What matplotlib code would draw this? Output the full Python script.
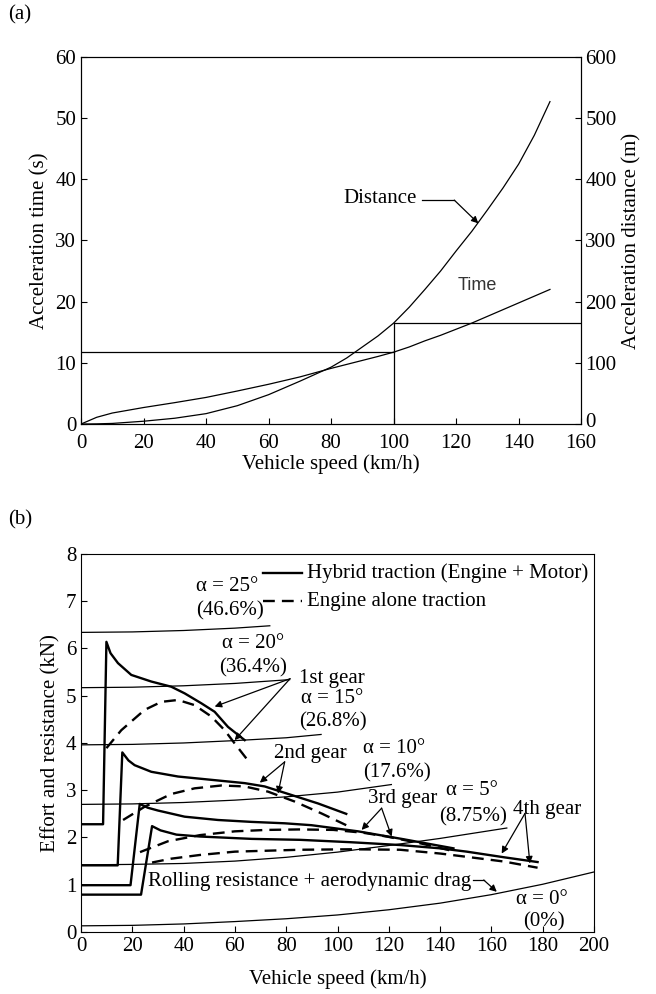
import matplotlib
matplotlib.use("Agg")
import matplotlib.pyplot as plt
from matplotlib.transforms import ScaledTranslation

plt.rcParams['font.family'] = ['Liberation Serif', 'DejaVu Serif']
FS = 15

# ---- (a) acceleration time / distance ----
speed_a = [0, 5, 10, 20, 30, 40, 50, 60, 70, 80, 85, 90, 95, 100, 105, 110, 115,
           120, 125, 130, 135, 140, 145, 150]
accel_time = [0, 1.1, 1.8, 2.7, 3.5, 4.35, 5.4, 6.5, 7.7, 9.1, 9.75, 10.4, 11.05, 11.75,
              12.6, 13.6, 14.5, 15.5, 16.5, 17.6, 18.7, 19.8, 20.9, 22.0]
accel_dist = [0, 0.3, 1, 4.6, 9.5, 17, 30, 48, 70, 93, 108, 126, 144, 165, 191, 220, 250,
              283, 315, 350, 386, 425, 472, 527]

# ---- (b) traction effort and resistance ----
g1_hyb_x = [0, 8.6, 9.9, 11.5, 14.4, 19.6, 27.4, 35.2, 40.4, 46.9, 52.1, 57.3, 63.8]
g1_hyb_y = [2.28, 2.28, 6.14, 5.90, 5.69, 5.44, 5.30, 5.19, 5.05, 4.84, 4.66, 4.34, 4.06]
g1_eng_x = [9.9, 15.7, 24.8, 31.3, 37.8, 44.3, 50.8, 56.0, 59.9, 64.5]
g1_eng_y = [3.89, 4.27, 4.70, 4.87, 4.91, 4.80, 4.56, 4.27, 3.99, 3.67]

g2_hyb_x = [0, 14.3, 16.1, 18.5, 20.9, 27.4, 37.8, 50.8, 63.8, 71.6, 82.0, 92.4, 103.4]
g2_hyb_y = [1.41, 1.41, 3.80, 3.63, 3.53, 3.39, 3.29, 3.22, 3.15, 3.08, 2.90, 2.72, 2.50]
g2_eng_x = [16.4, 24.8, 35.2, 44.3, 54.7, 63.8, 72.9, 83.3, 93.7, 103.4]
g2_eng_y = [2.37, 2.65, 2.92, 3.04, 3.10, 3.08, 2.97, 2.76, 2.51, 2.26]

g3_hyb_x = [0, 19.3, 22.9, 26.0, 30.0, 40.4, 53.4, 66.4, 79.4, 89.8, 108.0, 125, 145.2]
g3_hyb_y = [0.99, 0.99, 2.71, 2.63, 2.57, 2.44, 2.37, 2.33, 2.30, 2.26, 2.13, 1.97, 1.77]
g3_eng_x = [23.0, 33.9, 46.4, 60, 72.4, 85, 98.4, 110, 119.2, 132, 146]
g3_eng_y = [1.69, 1.92, 2.05, 2.13, 2.16, 2.17, 2.16, 2.10, 2.02, 1.88, 1.70]

g4_hyb_x = [0, 23.4, 27.7, 31, 37.2, 46.4, 66.6, 85.4, 105, 124.4, 140, 150.4, 165, 178]
g4_hyb_y = [0.79, 0.79, 2.24, 2.15, 2.06, 2.02, 1.97, 1.95, 1.90, 1.84, 1.77, 1.70, 1.58, 1.48]
g4_eng_x = [27.7, 35, 46.4, 60, 85.4, 105, 124.4, 140, 150.4, 165, 178]
g4_eng_y = [1.47, 1.55, 1.63, 1.70, 1.74, 1.75, 1.74, 1.66, 1.59, 1.49, 1.36]

# grade resistance curves
a0_x = [0, 20, 40, 60, 80, 100, 120, 140, 160, 180, 200]
a0_y = [0.13, 0.14, 0.17, 0.22, 0.28, 0.36, 0.47, 0.61, 0.79, 1.01, 1.27]
a5_x = [0, 20, 40, 60, 80, 100, 120, 140, 166]
a5_y = [1.42, 1.43, 1.45, 1.50, 1.58, 1.69, 1.83, 1.98, 2.20]
a10_x = [0, 20, 40, 60, 80, 100, 121]
a10_y = [2.70, 2.71, 2.74, 2.79, 2.86, 2.96, 3.12]
a15_x = [0, 20, 40, 60, 80, 93.6]
a15_y = [3.96, 3.97, 4.00, 4.05, 4.11, 4.18]
a20_x = [0, 20, 40, 60, 81.3]
a20_y = [5.17, 5.18, 5.21, 5.26, 5.34]
a25_x = [0, 20, 40, 60, 73.6]
a25_y = [6.34, 6.35, 6.38, 6.43, 6.48]

fig = plt.figure(figsize=(6.56, 9.94), dpi=100)

# ===================== (a) =====================
ax = fig.add_axes([0.1235, 0.5734, 0.7625, 0.3693])
ax2 = ax.twinx()
ax.plot(speed_a, accel_time, color='k', lw=0.9)
ax2.plot(speed_a, accel_dist, color='k', lw=0.9)
ax.plot([0, 100], [11.75, 11.75], color='k', lw=0.9)
ax.plot([100, 100], [0, 16.5], color='k', lw=0.9)
ax.plot([100, 160], [16.5, 16.5], color='k', lw=0.9)

ax.set_xlim(0, 160)
ax.set_ylim(0, 60)
ax2.set_ylim(0, 600)
ax.set_xticks(range(0, 161, 20))
ax.set_yticks(range(0, 61, 10))
ax2.set_yticks(range(0, 601, 100))
ax.tick_params(direction='in', labelsize=FS, length=4, top=False)
ax.tick_params(axis='x', pad=7)
ax2.tick_params(direction='in', labelsize=FS, length=4, pad=3)
ax.set_xlabel('Vehicle speed (km/h)', fontsize=FS, labelpad=1)
ax.set_ylabel('Acceleration time (s)', fontsize=FS)
ax2.set_ylabel('Acceleration distance (m)', fontsize=FS)

# lift the right-hand "0" a little so it clears the "160" below it
fig.canvas.draw()
zero_lbl = ax2.get_yticklabels()[0]
zero_lbl.set_transform(zero_lbl.get_transform() +
                       ScaledTranslation(0, 3 / 72, fig.dpi_scale_trans))

ax.text(95.7, 36.9, 'Distance', fontsize=FS, ha='center', va='center')
ax.plot([109, 119.4], [36.6, 36.6], color='k', lw=0.9)
ax.annotate('', xy=(127.1, 32.8), xytext=(119.4, 36.6),
            arrowprops=dict(arrowstyle='-|>', color='k', lw=0.9,
                            mutation_scale=10, shrinkA=0, shrinkB=0))
ax.text(126.9, 22.7, 'Time', fontsize=13, ha='center', va='center',
        family='Liberation Sans', color='#333333')

fig.text(0.012, 0.985, '(a)', fontsize=FS, ha='left', va='center')

# ===================== (b) =====================
bx = fig.add_axes([0.1235, 0.0624, 0.782, 0.3803])
thin = dict(color='k', lw=0.9)
for xs, ys in [(a0_x, a0_y), (a5_x, a5_y), (a10_x, a10_y),
               (a15_x, a15_y), (a20_x, a20_y), (a25_x, a25_y)]:
    bx.plot(xs, ys, **thin)

dash = (0, (5, 3))
for xs, ys in [(g1_hyb_x, g1_hyb_y), (g2_hyb_x, g2_hyb_y),
               (g3_hyb_x, g3_hyb_y), (g4_hyb_x, g4_hyb_y)]:
    bx.plot(xs, ys, color='k', lw=1.7)
for xs, ys in [(g1_eng_x, g1_eng_y), (g2_eng_x, g2_eng_y),
               (g3_eng_x, g3_eng_y), (g4_eng_x, g4_eng_y)]:
    bx.plot(xs, ys, color='k', lw=1.7, linestyle=dash)

bx.set_xlim(0, 200)
bx.set_ylim(0, 8)
bx.set_xticks(range(0, 201, 20))
bx.set_yticks(range(0, 9))
bx.tick_params(direction='in', labelsize=FS, length=4)
bx.set_xlabel('Vehicle speed (km/h)', fontsize=FS, labelpad=10)
bx.set_ylabel('Effort and resistance (kN)', fontsize=FS)

# legend drawn by hand
bx.plot([71.1, 86.0], [7.59, 7.59], color='k', lw=1.7)
bx.plot([71.1, 86.0], [7.0, 7.0], color='k', lw=1.7, linestyle=dash)
bx.text(88.0, 7.59, 'Hybrid traction (Engine + Motor)', fontsize=FS, va='center')
bx.text(88.0, 7.0, 'Engine alone traction', fontsize=FS, va='center')

labels = [
    (57.1, 7.31, 'α = 25°'), (58.1, 6.79, '(46.6%)'),
    (66.9, 6.10, 'α = 20°'), (67.1, 5.59, '(36.4%)'),
    (97.7, 5.37, '1st gear'),
    (98.0, 4.94, 'α = 15°'), (98.2, 4.45, '(26.8%)'),
    (89.5, 3.78, '2nd gear'),
    (122.2, 3.88, 'α = 10°'), (123.0, 3.36, '(17.6%)'),
    (125.6, 2.83, '3rd gear'),
    (152.3, 2.99, 'α = 5°'), (153.0, 2.44, '(8.75%)'),
    (181.9, 2.60, '4th gear'),
    (89.3, 1.06, 'Rolling resistance + aerodynamic drag'),
    (179.8, 0.68, 'α = 0°'), (180.5, 0.21, '(0%)'),
]
for x, y, s in labels:
    bx.text(x, y, s, fontsize=FS, ha='center', va='center')

arrow = dict(arrowstyle='-|>', color='k', lw=0.9, mutation_scale=10,
             shrinkA=0, shrinkB=0)
arrows = [
    ((81.5, 5.36), (52.1, 4.77)), ((81.5, 5.36), (59.9, 4.06)),
    ((79.4, 3.60), (69.7, 3.16)), ((79.4, 3.60), (76.8, 2.93)),
    ((117.2, 2.62), (109.4, 2.16)), ((117.2, 2.62), (121.1, 2.02)),
    ((173.1, 2.51), (164.0, 1.66)), ((173.1, 2.51), (175.0, 1.45)),
    ((157.0, 1.10), (162.1, 0.85)),
]
for tail, tip in arrows:
    bx.annotate('', xy=tip, xytext=tail, arrowprops=arrow)
bx.plot([152.8, 157.0], [1.10, 1.10], **thin)

fig.text(0.012, 0.477, '(b)', fontsize=FS, ha='left', va='center')

fig.savefig('out.png', dpi=100)
